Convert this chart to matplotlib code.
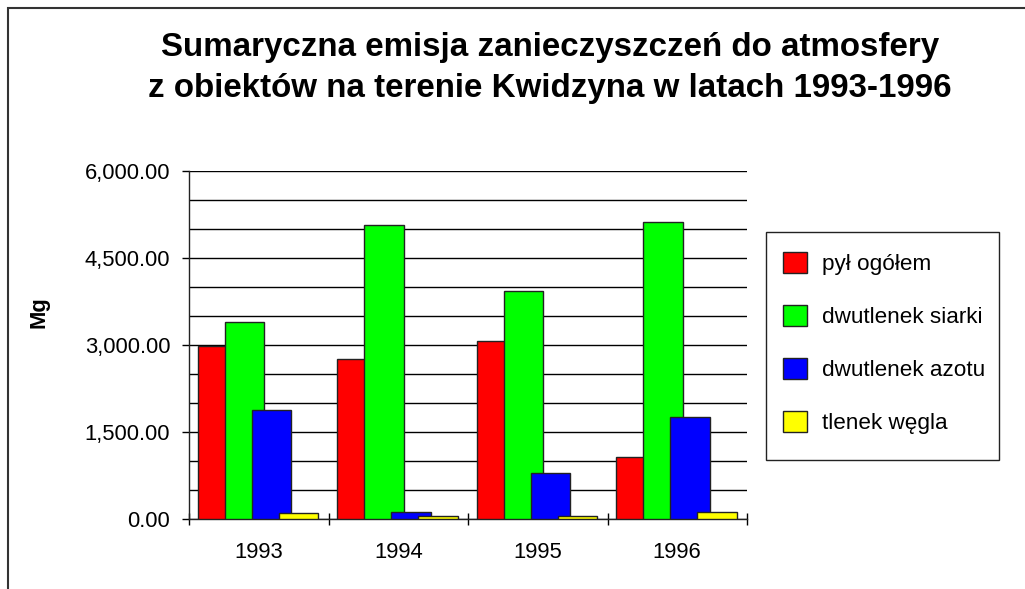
import matplotlib
matplotlib.use('Agg')
import matplotlib.pyplot as plt
import matplotlib.patches as mpatches
from matplotlib.ticker import MultipleLocator, FuncFormatter
import numpy as np

plt.rcParams['font.family'] = ['Liberation Sans', 'DejaVu Sans']

# dane
lata = ['1993', '1994', '1995', '1996']
serie = ['pył ogółem', 'dwutlenek siarki', 'dwutlenek azotu', 'tlenek węgla']
pyl = [2990, 2760, 3070, 1080]
so2 = [3405, 5075, 3930, 5115]
nox = [1885, 130, 800, 1755]
co = [105, 50, 50, 130]
kolory = ['#ff0000', '#00ff00', '#0000ff', '#ffff00']

W, H = 1025, 589
fig = plt.figure(figsize=(W / 100, H / 100), dpi=100)

# ramka wykresu (widoczna lewa i gorna krawedz)
fig.patches.append(mpatches.Rectangle((8 / W, -0.1), 1.2, 1 - 8 / H + 0.1,
                                      transform=fig.transFigure, fill=False,
                                      edgecolor='#333333', linewidth=1.5))

ax = fig.add_axes([189 / W, (H - 519.3) / H, 558 / W, 348.3 / H])

x = np.arange(len(lata))
szer = 0.28
krok = 0.1935
start = 0.0645 + szer / 2
for i, (wart, kol, nazwa) in enumerate(zip([pyl, so2, nox, co], kolory, serie)):
    ax.bar(x + start + i * krok, wart, width=szer, color=kol,
           edgecolor='#222222', linewidth=1.0, label=nazwa, zorder=3 + i)

ax.set_xlim(0, 4)
ax.set_ylim(0, 6000)

# os Y
ax.yaxis.set_major_locator(MultipleLocator(1500))
ax.yaxis.set_minor_locator(MultipleLocator(500))
ax.yaxis.set_major_formatter(FuncFormatter(lambda v, p: f'{v:,.2f}'))
ax.tick_params(axis='y', which='major', direction='out', length=5, width=1,
               pad=8.5, labelsize=15.8)
ax.tick_params(axis='y', which='minor', length=0)
ax.grid(True, axis='y', which='both', color='black', linewidth=1.0, zorder=0)

# os X
ax.set_xticks(x + 0.5)
ax.set_xticklabels(lata)
ax.set_xticks(np.arange(0, 5), minor=True)
ax.tick_params(axis='x', which='major', length=0, pad=16, labelsize=15.8)
ax.tick_params(axis='x', which='minor', direction='inout', length=9, width=1)

for s in ['top', 'right']:
    ax.spines[s].set_visible(False)
for s in ['left', 'bottom']:
    ax.spines[s].set_linewidth(1.0)
    ax.spines[s].set_color('#222222')

ax.set_ylabel('Mg', fontsize=15.8, fontweight='bold')
ax.yaxis.set_label_coords(-0.25, (519.3 - 312) / 348.3)

fig.text(550 / W, 1 - 68 / H,
         'Sumaryczna emisja zanieczyszczeń do atmosfery\n'
         'z obiektów na terenie Kwidzyna w latach 1993-1996',
         ha='center', va='center', fontsize=23.9, fontweight='bold',
         linespacing=1.38)

# legenda: ramka rysowana osobno
fig.patches.append(mpatches.Rectangle((766 / W, 1 - 460 / H), 233 / W, 228 / H,
                                      transform=fig.transFigure, fill=False,
                                      edgecolor='#222222', linewidth=1.0))
leg = ax.legend(loc='upper left', bbox_to_anchor=(783 / W, 1 - 252 / H),
                bbox_transform=fig.transFigure, fontsize=16.2,
                frameon=False, borderpad=0, labelspacing=1.33,
                handlelength=1.05, handleheight=1.05, handletextpad=0.7,
                borderaxespad=0)

fig.savefig('out.png', dpi=100)
